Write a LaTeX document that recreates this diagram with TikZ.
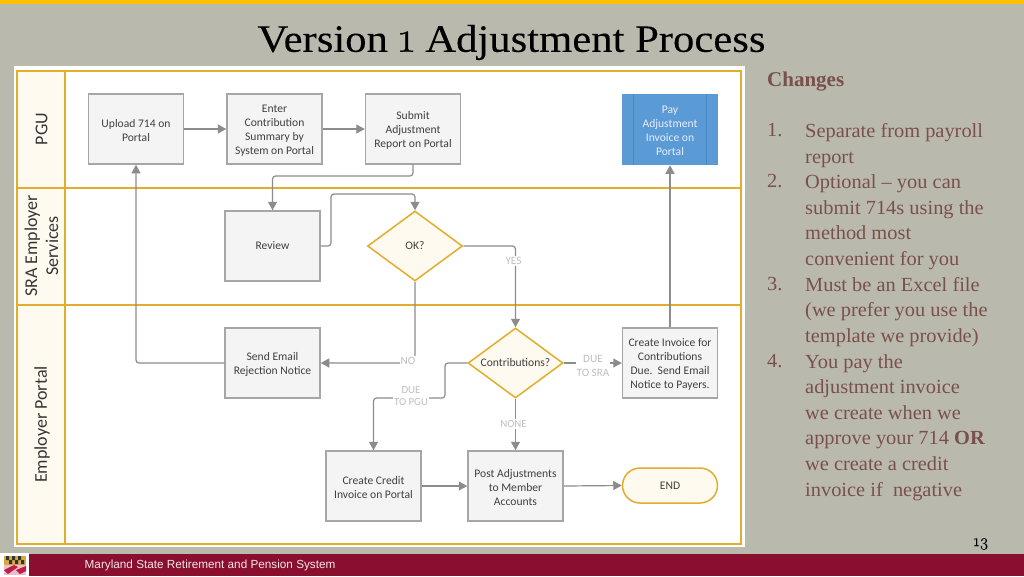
\documentclass[tikz,border=0pt]{standalone}
\usepackage{fontspec}
\setmainfont{Liberation Serif}
\newfontfamily\carlito{Carlito}
\newfontfamily\arialish{Liberation Sans}
\newfontfamily\oldnum{Latin Modern Roman}[Numbers=OldStyle,FakeBold=0.35]
\newfontfamily\titlefont{Liberation Serif}[FakeStretch=1.1,FakeBold=0.15]
\newfontfamily\bodyfont{Liberation Serif}[FakeStretch=1.02]
\usetikzlibrary{arrows.meta,shapes.geometric,shapes.misc}
\definecolor{bgc}{RGB}{186,185,173}
\definecolor{topbar}{RGB}{255,192,0}
\definecolor{goldline}{RGB}{224,174,44}
\definecolor{lanefill}{RGB}{254,250,240}
\definecolor{boxfill}{RGB}{244,244,244}
\definecolor{boxline}{RGB}{166,166,166}
\definecolor{conncol}{RGB}{140,140,140}
\definecolor{txt}{RGB}{64,64,64}
\definecolor{lab}{RGB}{190,190,190}
\definecolor{brownt}{RGB}{122,80,76}
\definecolor{maroon}{RGB}{138,14,46}
\definecolor{bluefill}{RGB}{91,155,213}
\definecolor{blueline}{RGB}{74,134,192}
\definecolor{flaggold}{RGB}{214,170,60}
\definecolor{flagpink}{RGB}{235,190,205}
\definecolor{flagred}{RGB}{190,30,70}
\newcommand{\topstrut}{\rule{0pt}{10.8pt}}
\tikzset{
  x=1pt,y=-1pt,
  lane/.style={draw=goldline,line width=1.5pt},
  procbox/.style={draw=boxline,fill=boxfill,line width=1.5pt,minimum width=95pt,minimum height=70pt,inner sep=1pt,align=center,font=\carlito\fontsize{11.6}{14}\selectfont,text=txt},
  decide/.style={diamond,aspect=1.357,draw=goldline,fill=lanefill,line width=1.5pt,minimum width=95pt,minimum height=70pt,inner sep=0pt,align=center,font=\carlito\fontsize{11.6}{14}\selectfont,text=txt},
  terminal/.style={rounded rectangle,draw=goldline,fill=lanefill,line width=1.5pt,minimum width=95pt,minimum height=35pt,inner sep=0pt,font=\carlito\fontsize{11.6}{14}\selectfont,text=txt},
  conn/.style={draw=conncol,line width=1.2pt,rounded corners=3pt},
  arr/.style={conn,-{Triangle[length=8.5pt,width=9pt]}},
  edgelab/.style={fill=white,inner sep=1pt,font=\carlito\fontsize{11.2}{14}\selectfont,text=lab,align=center},
  lanelab/.style={rotate=90,font=\carlito\fontsize{18}{21}\selectfont,text=txt!85!black,align=center},
  itemtext/.style={anchor=north west,inner sep=0pt,align=left,text=brownt,font=\bodyfont\fontsize{20}{25.6}\selectfont},
}
\begin{document}
\begin{tikzpicture}
\useasboundingbox (0,0) rectangle (1024,576);
\fill[bgc] (0,0) rectangle (1024,576);
\fill[topbar] (0,0) rectangle (1024,4);
\node[anchor=center,inner sep=0pt,font=\titlefont\fontsize{38.8}{40}\selectfont,text=black] (title) at (511.5,42.5) {Version {\oldnum\fontsize{44}{40}\selectfont 1} Adjustment Process};
% picture panel
\fill[white] (14,66) rectangle (745,547);
\fill[lanefill] (17,71) rectangle (65,544);
\draw[lane] (17,71) rectangle (741,544);
\draw[lane] (65,71) -- (65,544);
\draw[lane] (17,188) -- (741,188);
\draw[lane] (17,305) -- (741,305);
\node[lanelab] (lanepgu) at (41.5,129) {PGU};
\node[lanelab] (lanesra) at (41.5,246) {SRA Employer\\Services};
\node[lanelab] (laneport) at (42,424.5) {Employer Portal};
% nodes
\node[procbox] (upload) at (136,129) {\topstrut Upload 714 on\\Portal};
\node[procbox] (enter) at (274.5,129) {\topstrut Enter\\Contribution\\Summary by\\System on Portal};
\node[procbox] (submit) at (413,129) {\topstrut Submit\\Adjustment\\Report on Portal};
\node[procbox,draw=bluefill,fill=bluefill,text=white!92!blue] (pay) at (670,129.5) {\topstrut Pay\\Adjustment\\Invoice on\\Portal};
\draw[blueline,line width=1pt] ([xshift=12pt]pay.north west) -- ([xshift=12pt]pay.south west);
\draw[blueline,line width=1pt] ([xshift=-12pt]pay.north east) -- ([xshift=-12pt]pay.south east);
\node[procbox] (review) at (272.5,246) {Review};
\node[decide] (ok) at (415,246) {OK?};
\node[procbox] (reject) at (272.5,363) {\topstrut Send Email\\Rejection Notice};
\node[decide] (contrib) at (515.5,363) {Contributions?};
\node[procbox] (invoice) at (670,363) {\topstrut Create Invoice for\\Contributions\\Due.\ \ Send Email\\Notice to Payers.};
\node[procbox] (credit) at (373.5,486) {\topstrut Create Credit\\Invoice on Portal};
\node[procbox] (post) at (515.5,486) {\topstrut Post Adjustments\\to Member\\Accounts};
\node[terminal] (endn) at (670,485.5) {END};
% connectors
\draw[arr] (upload) -- (enter);
\draw[arr] (enter) -- (submit);
\coordinate (c1) at (413,176);
\draw[arr] (submit.south) -- (c1) -| (review.north);
\coordinate (c2) at (331,246);
\coordinate (c3) at (331,194);
\draw[arr] (review.east) -- (c2) -- (c3) -| (ok.north);
\draw[arr] (ok.east) -| (contrib.north);
\draw[arr] (ok.south) |- (reject.east);
\draw[arr] (reject.west) -| (upload.south);
\draw[arr] (contrib.east) -- (invoice.west);
\coordinate (c4) at (445,363);
\coordinate (c5) at (445,398);
\draw[arr] (contrib.west) -- (c4) -- (c5) -| (credit.north);
\draw[arr] (contrib.south) -- (post.north);
\draw[arr] (credit.east |- post.west) -- (post.west);
\draw[arr] (post.east) -- (endn.west);
\draw[arr] (invoice.north) -- (pay.south);
% edge labels
\node[edgelab] (lyes) at (513.5,261) {YES};
\node[edgelab] (lno) at (408,361) {NO};
\node[edgelab] (lsra) at (593,365.5) {DUE\\TO SRA};
\node[edgelab,font=\carlito\fontsize{10.8}{12}\selectfont] (lpgu) at (411,396) {DUE\\TO PGU};
\node[edgelab,font=\carlito\fontsize{10.8}{12}\selectfont] (lnone) at (513.5,424) {NONE};
% right text
\node[anchor=west,inner sep=0pt,text=brownt,font=\bfseries\fontsize{21}{24}\selectfont] (changes) at (767,82) {Changes};
\node[itemtext] (n1) at (767,123.5) {1.};
\node[itemtext] (t1) at (805,123.5) {Separate from payroll\\report};
\node[itemtext] (n2) at (767,174.5) {2.};
\node[itemtext] (t2) at (805,174.5) {Optional – you can\\submit 714s using the\\method most\\convenient for you};
\node[itemtext] (n3) at (767,277) {3.};
\node[itemtext] (t3) at (805,277) {Must be an Excel file\\(we prefer you use the\\template we provide)};
\node[itemtext] (n4) at (767,354) {4.};
\node[itemtext] (t4) at (805,354) {You pay the\\adjustment invoice\\we create when we\\approve your 714 \textbf{OR}\\we create a credit\\invoice if\ \ negative};
% footer
\fill[maroon] (0,554) rectangle (1024,576);
\fill[white] (0,553) rectangle (29,576);
\fill[flaggold] (4,556) rectangle (26,565);
\fill[black!80] (6,556) rectangle (9,560) (12,556) rectangle (15,560) (18,556) rectangle (21,560) (9,560) rectangle (12,564) (15,560) rectangle (18,564) (21,560) rectangle (24,564);
\fill[flagpink] (4,565) rectangle (26,575);
\fill[flagred] (4,570) -- (14,565) -- (18,567) -- (8,574) -- cycle (16,570) -- (26,566) -- (26,571) -- (20,574) -- cycle;
\node[anchor=west,inner sep=0pt,text=white!90!maroon,font=\arialish\fontsize{11.75}{13}\selectfont] (foot) at (84.5,565.5) {Maryland State Retirement and Pension System};
\node[inner sep=0pt,text=black,font=\oldnum\fontsize{17}{16}\selectfont] (pnum) at (981,544) {13};
\end{tikzpicture}
\end{document}
